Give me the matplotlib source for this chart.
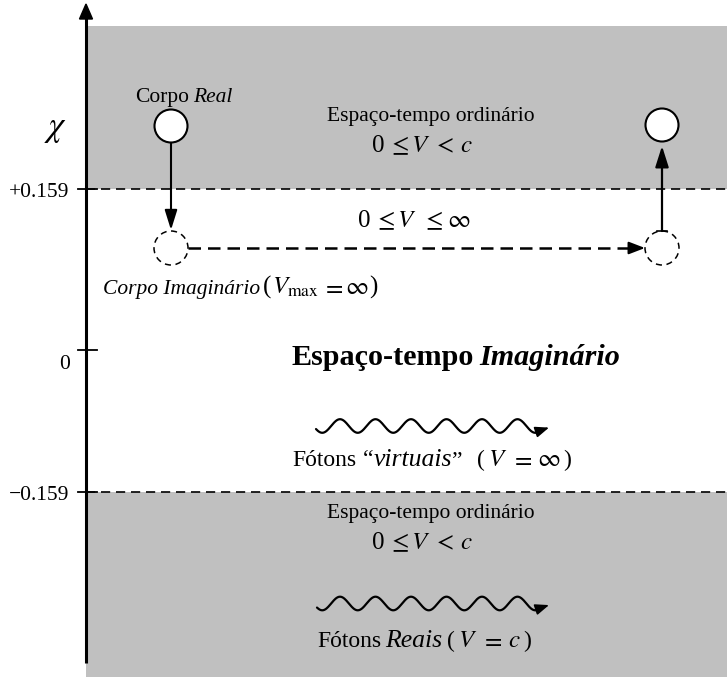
import numpy as np
import matplotlib
matplotlib.use("Agg")
import matplotlib.pyplot as plt
from matplotlib.patches import Circle, Rectangle, FancyArrowPatch, Polygon

plt.rcParams['mathtext.fontset'] = 'stix'
SERIF = ['Liberation Serif', 'DejaVu Serif']

# ---- content ----
chi_ticks = [0.159, 0.0, -0.159]
chi_tick_labels = ["+0.159", "0", "\u22120.159"]
axis_label = r"$\chi$"
ordinary_label = "Espaço-tempo ordinário"
imag_title = ("Espaço-tempo", "Imaginário")
real_body = ("Corpo", "Real")
imag_body = "Corpo Imaginário"
virtual_photons = ("Fótons", "\u201c", "virtuais", "\u201d")
real_photons = ("Fótons", "Reais")

# ---- canvas in pixel units ----
W, H = 727, 677
fig = plt.figure(figsize=(W / 100, H / 100), dpi=100)
ax = fig.add_axes([0, 0, 1, 1])
ax.set_xlim(0, W)
ax.set_ylim(H, 0)
ax.axis('off')
renderer = fig.canvas.get_renderer()

# layout (pixels)
AX_X = 86
tick_px = {0.159: 189, 0.0: 350, -0.159: 492}
GRAY = '#c0c0c0'

# gray regions
ax.add_patch(Rectangle((AX_X, 26), W - AX_X, tick_px[0.159] - 26, color=GRAY, lw=0, zorder=0))
ax.add_patch(Rectangle((AX_X, tick_px[-0.159]), W - AX_X, H - tick_px[-0.159], color=GRAY, lw=0, zorder=0))

# dashed boundaries
for v in (0.159, -0.159):
    y = tick_px[v]
    ax.plot([AX_X, W], [y, y], color='k', lw=1.2, ls=(0, (5.5, 3.5)), zorder=2)

# ticks
for v in chi_ticks:
    y = tick_px[v]
    ax.plot([78, 97], [y, y], color='k', lw=1.3, zorder=3)

# axis + arrow
ax.plot([AX_X, AX_X], [16, 663], color='k', lw=2.2, zorder=3, solid_capstyle='butt')
ax.add_patch(Polygon([(AX_X - 6.5, 19), (AX_X + 6.5, 19), (AX_X, 4)], closed=True,
                     color='k', zorder=4))

# tick labels
for v, lab in zip(chi_ticks, chi_tick_labels):
    y = tick_px[v]
    if v == 0.0:
        ax.text(65, 369, lab, family=SERIF, size=15.5, ha='center', va='baseline')
    else:
        ax.text(69, y + 8, lab, family=SERIF, size=15.5, ha='right', va='baseline')

ax.text(56, 128, axis_label, size=25, ha='center', va='center')


def rich(x, y, parts, ha='left'):
    items, total = [], 0.0
    for p in parts:
        if isinstance(p, (int, float)):
            items.append(p)
            total += p
        else:
            s, kw = p
            t = ax.text(0, y, s, va='baseline', ha='left', zorder=5, **kw)
            w = t.get_window_extent(renderer).width
            items.append((t, w))
            total += w
    cur = x - total / 2 if ha == 'center' else x
    for it in items:
        if isinstance(it, (int, float)):
            cur += it
        else:
            it[0].set_x(cur)
            cur += it[1]


def rm(sz):
    return dict(family=SERIF, size=sz)


def it(sz):
    return dict(family=SERIF, size=sz, style='italic')


def mt(sz):
    return dict(size=sz)


# circles
for cx, cy in [(171, 126), (662, 125)]:
    ax.add_patch(Circle((cx, cy), 16.5, facecolor='white', edgecolor='k', lw=1.5, zorder=4))
for cx, cy in [(171, 248), (662, 248)]:
    ax.add_patch(Circle((cx, cy), 17, facecolor='none', edgecolor='k', lw=1.1,
                        ls=(0, (4, 3)), zorder=4))

# arrows
ax.add_patch(FancyArrowPatch((171, 143), (171, 230),
                             arrowstyle='-|>,head_length=0.8,head_width=0.25',
                             mutation_scale=15, color='k', lw=1.5, zorder=4,
                             shrinkA=0, shrinkB=0))
ax.add_patch(FancyArrowPatch((662, 231), (662, 146),
                             arrowstyle='-|>,head_length=0.85,head_width=0.27',
                             mutation_scale=15, color='k', lw=1.6, zorder=4,
                             shrinkA=0, shrinkB=0))
ax.plot([657, 667], [231, 231], color='k', lw=1.2, zorder=4)
ax.plot([188, 637], [248, 248], color='k', lw=1.8, ls=(0, (5, 2.8)), zorder=4)
ax.add_patch(FancyArrowPatch((630, 248), (645, 248),
                             arrowstyle='-|>,head_length=0.65,head_width=0.25',
                             mutation_scale=15, color='k', lw=1.5, zorder=4,
                             shrinkA=0, shrinkB=0))


# wavy photon arrows
def wave(x0, x1, yc, amp=6.8, period=35.5, first_peak=340.0):
    xs = np.linspace(x0, x1, 400)
    ys = yc - amp * np.cos(2 * np.pi * (xs - first_peak) / period)
    ax.plot(xs, ys, color='k', lw=1.6, zorder=4, solid_capstyle='round')
    ax.add_patch(FancyArrowPatch((xs[-3], ys[-3]), (xs[-1] + 8, ys[-1] - 2),
                                 arrowstyle='-|>,head_length=0.55,head_width=0.22',
                                 mutation_scale=15, color='k', lw=1.2, zorder=4,
                                 shrinkA=0, shrinkB=0))


wave(316, 541, 426)
wave(317, 541, 603.5)

# texts
S = 15.5
rich(135, 102, [(real_body[0], rm(S)), 4, (real_body[1], it(S))])
for yb in (121, 518):
    rich(431, yb, [(ordinary_label, rm(S))], ha='center')
MS = 18
for yb in (152, 549):
    rich(372, yb, [("0", rm(MS)), 3, (r"$\leq$", mt(MS)), 2, (r"$V$", mt(MS)), 3,
                   (r"$<$", mt(MS)), 6, (r"$c$", mt(MS))])
rich(358, 227, [("0", rm(MS)), 3, (r"$\leq$", mt(MS)), 2, (r"$V$", mt(MS)), 6,
                (r"$\leq$", mt(MS)), 4, (r"$\infty$", mt(MS))])

rich(103, 294, [(imag_body, it(S)), 3, ("(", rm(18)), 0,
                (r"$V_{\mathrm{max}}$", mt(18)), 3, (r"$=$", mt(18)), 2,
                (r"$\infty$", mt(18)), 1, (")", rm(18))])

rich(292, 365, [(imag_title[0], dict(family=SERIF, size=21.7, weight='bold')), 5,
                (imag_title[1], dict(family=SERIF, size=21.7, weight='bold', style='italic'))])

PS = 17
rich(292, 466, [(virtual_photons[0], rm(PS)), 7, (virtual_photons[1], rm(PS)),
                (virtual_photons[2], it(18.5)), (virtual_photons[3], rm(PS)), 14,
                ("(", rm(PS)), 3, (r"$V$", mt(18)), 4, (r"$=$", mt(18)), 5,
                (r"$\infty$", mt(18)), 2, (")", rm(PS))])
rich(317, 647, [(real_photons[0], rm(PS)), 4, (real_photons[1], it(18.5)), 5,
                ("(", rm(PS)), 3, (r"$V$", mt(18)), 4, (r"$=$", mt(18)), 5,
                (r"$c$", mt(18)), 3, (")", rm(PS))])

fig.savefig("out.png", dpi=100)
